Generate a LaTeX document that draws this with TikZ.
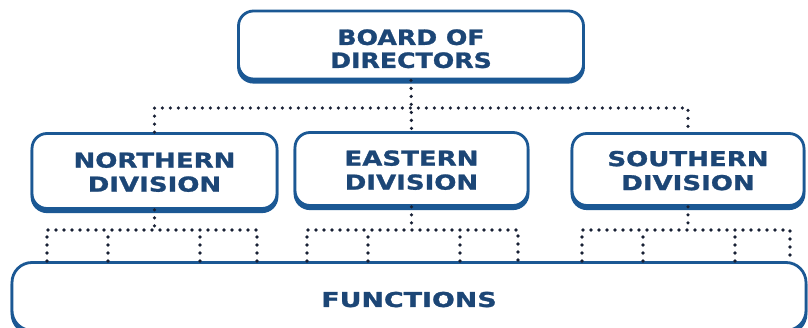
\documentclass[tikz,border=0pt]{standalone}
\usepackage{fontspec}
\newfontfamily\boardfont{DejaVu Sans}[FakeStretch=1.2,FakeBold=1.3]
\newfontfamily\divfont{DejaVu Sans}[FakeStretch=1.27,FakeBold=1.3]
\newfontfamily\funcfont{DejaVu Sans}[FakeStretch=1.31,FakeBold=1.3]
\definecolor{boxblue}{RGB}{27,88,148}
\definecolor{textblue}{RGB}{28,70,118}
\definecolor{dotcol}{RGB}{24,32,52}
\newcommand{\twolines}[3]{\raisebox{-#1}[0pt][0pt]{\begin{tabular}{@{}c@{}}#2\\#3\end{tabular}}}
\tikzset{
  orgbox/.style={draw=boxblue, line width=2.8pt, fill=white, rounded corners=15pt,
    align=center, text=textblue, inner sep=0pt,
    preaction={fill=boxblue, draw=boxblue, line width=2.8pt, transform canvas={yshift=-3.2pt}}},
  dots/.style={draw=dotcol, line width=3.6pt, line cap=round, dash pattern=on 0pt off 8pt}
}
\begin{document}
\begin{tikzpicture}[x=1pt,y=1pt]
\useasboundingbox[fill=white] (0,0) rectangle (808,328);
% boxes
\node[orgbox, minimum width=345pt, minimum height=68pt,
  font=\boardfont\bfseries\fontsize{21}{23}\selectfont] (board) at (411,283) {\twolines{12pt}{BOARD OF}{DIRECTORS}};
\node[orgbox, minimum width=245pt, minimum height=75pt,
  font=\divfont\bfseries\fontsize{20.5}{24}\selectfont] (northern) at (154.5,157) {\twolines{9pt}{NORTHERN}{DIVISION}};
\node[orgbox, minimum width=233pt, minimum height=73pt,
  font=\divfont\bfseries\fontsize{20.5}{24}\selectfont] (eastern) at (411.5,159) {\twolines{9pt}{EASTERN}{DIVISION}};
\node[orgbox, minimum width=232pt, minimum height=72pt,
  font=\divfont\bfseries\fontsize{20.5}{24}\selectfont] (southern) at (688,158.5) {\twolines{9pt}{SOUTHERN}{DIVISION}};
\node[orgbox, rounded corners=20pt, minimum width=794pt, minimum height=68pt,
  font=\funcfont\bfseries\fontsize{20.5}{24}\selectfont] (functions) at (409,31.5) {\raisebox{-10.5pt}[0pt][0pt]{FUNCTIONS}};
% junctions
\coordinate (jtop) at (411,220);
\coordinate (nbus) at (154.5,98);
\coordinate (ebus) at (411.5,98);
\coordinate (sbus) at (688,98);
\coordinate (n1) at (47,67);  \coordinate (n2) at (108,67);
\coordinate (n3) at (200,67); \coordinate (n4) at (257,67);
\coordinate (e1) at (307,67); \coordinate (e2) at (368,67);
\coordinate (e3) at (460,67); \coordinate (e4) at (518,67);
\coordinate (s1) at (582,67); \coordinate (s2) at (643,67);
\coordinate (s3) at (735,67); \coordinate (s4) at (790,67);
% top level connectors
\draw[dots] (board.south) -- (eastern.north);
\draw[dots] (northern.north) |- (jtop) -| (southern.north);
% division to functions
\draw[dots] (northern.south) -- (nbus);
\draw[dots] (n1) |- (nbus) -| (n4);
\draw[dots] (n2) -- (n2 |- nbus);
\draw[dots] (n3) -- (n3 |- nbus);
\draw[dots] (eastern.south) -- (ebus);
\draw[dots] (e1) |- (ebus) -| (e4);
\draw[dots] (e2) -- (e2 |- ebus);
\draw[dots] (e3) -- (e3 |- ebus);
\draw[dots] (southern.south) -- (sbus);
\draw[dots] (s1) |- (sbus) -| (s4);
\draw[dots] (s2) -- (s2 |- sbus);
\draw[dots] (s3) -- (s3 |- sbus);
\end{tikzpicture}
\end{document}
